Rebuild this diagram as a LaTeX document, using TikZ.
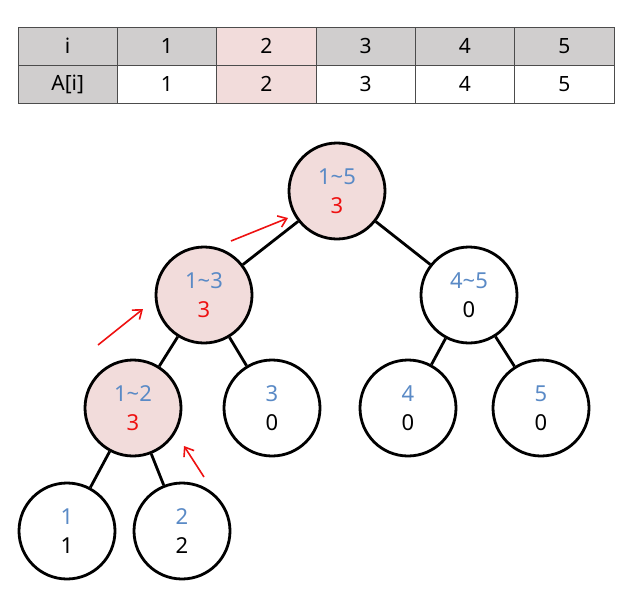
\documentclass[tikz,border=0pt]{standalone}
\usepackage{fontspec}
\setmainfont{Noto Sans}
\usetikzlibrary{arrows.meta}
\definecolor{hdr}{HTML}{D0CECE}
\definecolor{pk}{HTML}{F2DCDB}
\definecolor{bl}{HTML}{5A8AC6}
\definecolor{rd}{HTML}{EE1111}
\tikzset{
  tn/.style={circle,draw=black,line width=2.8pt,minimum size=96pt,inner sep=0pt,fill=white,
    align=center,font=\fontsize{22}{29}\selectfont},
  tnp/.style={tn,fill=pk},
  edge/.style={line width=2.8pt},
  rarrow/.style={draw=rd,line width=1.6pt,-{Straight Barb[length=8pt,width=12pt]}},
  cell/.style={draw=black!70,line width=0.8pt,minimum width=99.33pt,minimum height=38pt,inner sep=0pt,font=\fontsize{21}{24}\selectfont},
}
\newcommand{\nd}[3]{\textcolor{bl}{#1}\\\textcolor{#2}{#3}}
\begin{document}
\begin{tikzpicture}[x=1pt,y=-1pt]
\useasboundingbox (0,0) rectangle (639,605);
% table
\foreach \t [count=\k from 0] in {i,1,2,3,4,5}{
  \pgfmathsetmacro{\xx}{18+99.33*\k+49.67}
  \ifnum\k=2 \def\cc{pk}\else\def\cc{hdr}\fi
  \node[cell,fill=\cc] (h\k) at (\xx,46) {\t};
}
\foreach \t [count=\k from 0] in {A[i],1,2,3,4,5}{
  \pgfmathsetmacro{\xx}{18+99.33*\k+49.67}
  \ifnum\k=0 \def\cc{hdr}\else\ifnum\k=2 \def\cc{pk}\else\def\cc{white}\fi\fi
  \node[cell,fill=\cc] (r\k) at (\xx,84) {\t};
}
% tree nodes
\node[tnp] (n15) at (337,191) {\nd{1\textasciitilde5}{rd}{3}};
\node[tnp] (n13) at (204,295) {\nd{1\textasciitilde3}{rd}{3}};
\node[tn]  (n45) at (469,295) {\nd{4\textasciitilde5}{black}{0}};
\node[tnp] (n12) at (133,408) {\nd{1\textasciitilde2}{rd}{3}};
\node[tn]  (n3)  at (272,408) {\nd{3}{black}{0}};
\node[tn]  (n4)  at (408,408) {\nd{4}{black}{0}};
\node[tn]  (n5)  at (541,408) {\nd{5}{black}{0}};
\node[tn]  (n1)  at (67,531)  {\nd{1}{black}{1}};
\node[tn]  (n2)  at (182,531) {\nd{2}{black}{2}};
\draw[edge] (n15) -- (n13);
\draw[edge] (n15) -- (n45);
\draw[edge] (n13) -- (n12);
\draw[edge] (n13) -- (n3);
\draw[edge] (n45) -- (n4);
\draw[edge] (n45) -- (n5);
\draw[edge] (n12) -- (n1);
\draw[edge] (n12) -- (n2);
% red arrows
\coordinate (a1s) at (231,241); \coordinate (a1e) at (288,218);
\coordinate (a2s) at (98,345);  \coordinate (a2e) at (143,309);
\coordinate (a3s) at (204,477); \coordinate (a3e) at (184,446);
\draw[rarrow] (a1s) -- (a1e);
\draw[rarrow] (a2s) -- (a2e);
\draw[rarrow] (a3s) -- (a3e);
\end{tikzpicture}
\end{document}
